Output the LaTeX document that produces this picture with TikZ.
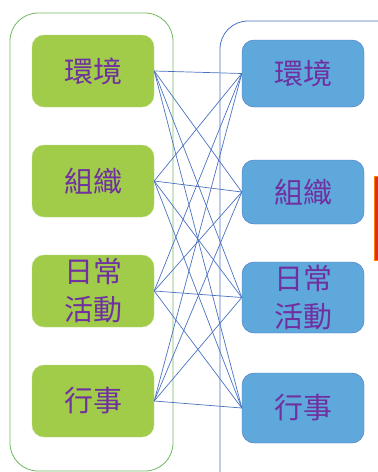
\documentclass[tikz,border=0pt]{standalone}
\usepackage{fontspec}
\newfontfamily\cjk{Noto Sans CJK TC}
\usepackage{tikz}
\usetikzlibrary{calc}
\usetikzlibrary{arrows, arrows.meta, positioning}
\definecolor{leafgreen}{HTML}{A0CC4A}
\definecolor{framegreen}{HTML}{70B860}
\definecolor{skyblue}{HTML}{5FA8DC}
\definecolor{edgeblue}{HTML}{4A72C0}
\definecolor{textpurple}{HTML}{7030A0}
\definecolor{alertred}{HTML}{E02A1E}
\begin{document}
\begin{tikzpicture}[x=1pt, y=-1pt,
		leftbox/.style={draw=leafgreen!70!white, fill=leafgreen, rounded corners=12pt, minimum width=122pt, minimum height=72pt, inner sep=0pt, align=center, text=textpurple, font=\cjk\fontsize{29}{38}\selectfont},
		rightbox/.style={draw=edgeblue, fill=skyblue, rounded corners=12pt, minimum width=122pt, inner sep=0pt, align=center, text=textpurple, font=\cjk\fontsize{29}{38}\selectfont},
		link/.style={draw=edgeblue, line width=0.7pt}]
				% Canvas
				\useasboundingbox (0,0) rectangle (378,472);
				\clip (0,0) rectangle (378,472);
				
				% Containers
				\draw[framegreen, line width=0.8pt, rounded corners=28pt] (10,13) rectangle (173,471);
				\draw[edgeblue, line width=0.8pt, rounded corners=28pt] (220,21) rectangle (410,500);
				
				% Red marker on the right edge
				\fill[alertred, draw=orange, line width=0.8pt] (374.5,176) rectangle (385,260);
				
				% Left column
				\node[leftbox] (envL) at (93,71) {環境};
				\node[leftbox] (orgL) at (93,181) {組織};
				\node[leftbox] (dayL) at (93,291) {日常\\活動};
				\node[leftbox] (evtL) at (93,401) {行事};
				
				% Right column
				\node[rightbox, minimum height=67pt] (envR) at (303,73.5) {環境};
				\node[rightbox, minimum height=64pt] (orgR) at (303,192) {組織};
				\node[rightbox, minimum height=71pt] (dayR) at (303,297.5) {日常\\活動};
				\node[rightbox, minimum height=70pt] (evtR) at (303,408) {行事};
				
				% Every left item to every right item
				\foreach \l in {envL, orgL, dayL, evtL}
					\foreach \r in {envR, orgR, dayR, evtR}
						\draw[link] (\l.east) -- (\r.west);
			\end{tikzpicture}
\end{document}
